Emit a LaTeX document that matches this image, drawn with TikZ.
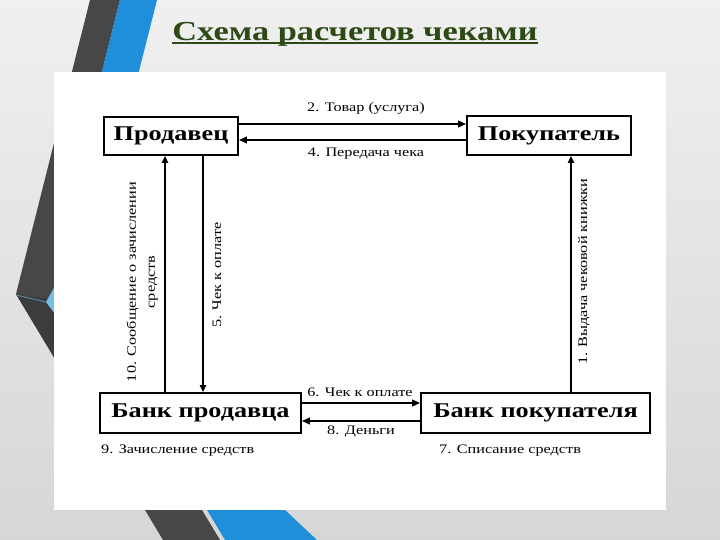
\documentclass[tikz,border=0pt]{standalone}
\usepackage{fontspec}
\setmainfont[FakeStretch=1.25]{Liberation Serif}
\usetikzlibrary{arrows.meta}
\definecolor{titlegreen}{HTML}{2D4A14}
\definecolor{stripegray}{HTML}{474747}
\definecolor{stripeblue}{HTML}{1E8FD8}
\tikzset{
    box/.style={draw, line width=1.6pt, fill=white, inner sep=0pt,
        font=\fontsize{21}{24}\selectfont\bfseries},
    flow/.style={line width=2.6pt, -{Triangle[length=8pt,width=6.5pt]}},
    vflow/.style={line width=1.7pt, -{Triangle[length=7pt,width=6pt]}},
    lbl/.style={font=\fontsize{13}{19}\selectfont, inner sep=1pt}
}
\begin{document}
\begin{tikzpicture}[x=1pt,y=-1pt]
    % Slide background and stripes
    \useasboundingbox (0,0) rectangle (720,540);
    \shade[top color=gray!12, bottom color=gray!32] (0,0) rectangle (720,540);
    \fill[stripegray] (90,0) -- (120,0) -- (54,263) -- (202,510) -- (220,540)
        -- (163,540) -- (16,294) -- cycle;
    \fill[stripegray!85!black] (16,294) -- (54,300) -- (54,357) -- cycle;
    \fill[stripeblue] (120,0) -- (157,0) -- (104,209) -- (285,510) -- (317,540)
        -- (225,540) -- (207,510) -- (55,257) -- cycle;
    \fill[stripeblue!60!white] (46,302) -- (55,286) -- (55,314) -- cycle;
    \draw[stripeblue!40!gray, line width=1pt] (16,295) -- (46,302);
    \fill[white] (54,72) rectangle (666,510);

    % Title
    \node[inner sep=0pt, text=titlegreen, font=\fontsize{27.5}{32}\selectfont\bfseries]
        (title) at (355,34) {Схема расчетов чеками};
    \draw[titlegreen, line width=1.6pt] ([yshift=-3pt]title.base west) -- ([yshift=-3pt]title.base east);

    % Participants
    \node[box, minimum width=134pt, minimum height=38pt] (seller) at (171,136) {Продавец};
    \node[box, minimum width=164pt, minimum height=39pt] (buyer) at (549,135.5) {Покупатель};
    \node[box, minimum width=201pt, minimum height=40pt] (bankS) at (200.5,413) {Банк продавца};
    \node[box, minimum width=229pt, minimum height=40pt] (bankB) at (535.5,413) {Банк покупателя};

    % Horizontal flows
    \draw[flow] ([yshift=12pt]seller.east) -- ([yshift=12pt]seller.east -| buyer.west);
    \draw[flow] ([yshift=-4pt]seller.east -| buyer.west) -- ([yshift=-4pt]seller.east);
    \draw[flow] ([yshift=10pt]bankS.east) -- ([yshift=10pt]bankS.east -| bankB.west);
    \draw[flow] ([yshift=-8pt]bankS.east -| bankB.west) -- ([yshift=-8pt]bankS.east);

    % Vertical flows
    \draw[vflow] ([xshift=-35.5pt]bankS.north) -- ([xshift=-35.5pt]bankS.north |- seller.south);
    \draw[vflow] ([xshift=32pt]seller.south) -- ([xshift=32pt]seller.south |- bankS.north);
    \draw[vflow] ([xshift=35.5pt]bankB.north) -- ([xshift=35.5pt]bankB.north |- buyer.south);

    % Step labels
    \node[lbl] (goods) at (366,108) {2. Товар (услуга)};
    \node[lbl] (handover) at (366,154) {4. Передача чека};
    \node[lbl] (chequeB) at (360,392) {6. Чек к оплате};
    \node[lbl] (money) at (361,432) {8. Деньги};
    \node[lbl, anchor=west] (credit) at (100,451) {9. Зачисление средств};
    \node[lbl, anchor=west] (debit) at (438,451) {7. Списание средств};
    \node[lbl, rotate=90, align=center] (notice) at (142,282) {10. Сообщение о зачислении\\средств};
    \node[lbl, rotate=90] (chequeS) at (217,275) {5. Чек к оплате};
    \node[lbl, rotate=90] (book) at (584,272) {1. Выдача чековой книжки};
\end{tikzpicture}
\end{document}
